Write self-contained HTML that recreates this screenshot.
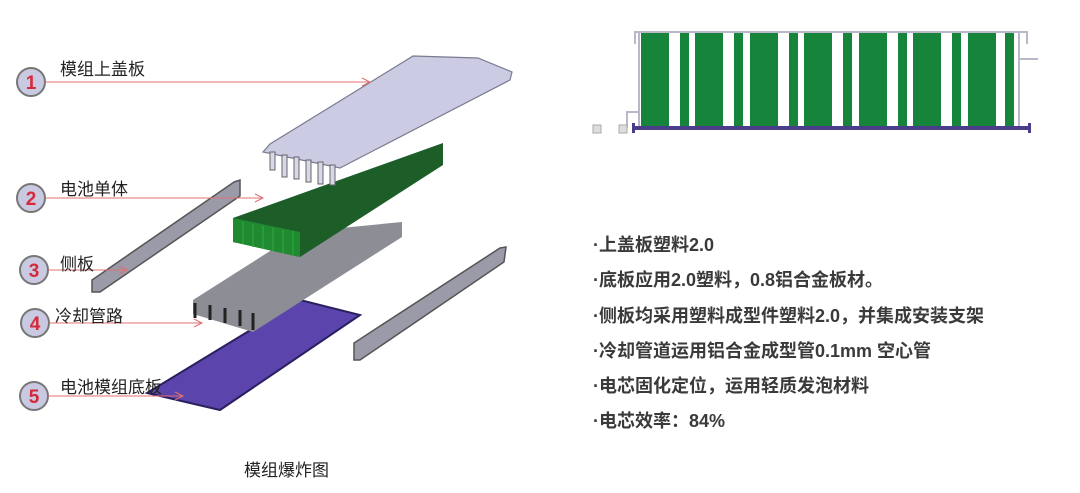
<!DOCTYPE html>
<html><head><meta charset="utf-8"><style>
body{margin:0;background:#fff;}
.w{position:relative;width:1080px;height:493px;overflow:hidden;font-family:"Liberation Sans","Noto Sans CJK SC",sans-serif;}
.t{position:absolute;left:593px;font-size:18px;font-weight:bold;color:#3a3a3a;white-space:nowrap;line-height:20px;}
.l{position:absolute;font-size:17px;color:#222;white-space:nowrap;}
</style></head><body><div class="w">
<svg width="1080" height="493" style="position:absolute;left:0;top:0">
<g fill="#17843c">
<rect x="641" y="32" width="28" height="94"/><rect x="680" y="32" width="9" height="94"/>
<rect x="695" y="32" width="28" height="94"/><rect x="734" y="32" width="9" height="94"/>
<rect x="750" y="32" width="28" height="94"/><rect x="789" y="32" width="9" height="94"/>
<rect x="804" y="32" width="28" height="94"/><rect x="843" y="32" width="9" height="94"/>
<rect x="859" y="32" width="28" height="94"/><rect x="898" y="32" width="9" height="94"/>
<rect x="913" y="32" width="28" height="94"/><rect x="952" y="32" width="9" height="94"/>
<rect x="968" y="32" width="28" height="94"/><rect x="1005" y="32" width="9" height="94"/>
</g>
<path d="M635 44 V32 H1027 V44" fill="none" stroke="#b8b8c8" stroke-width="2"/>
<path d="M639 33 V126 M1019 33 V126 M1019 59 H1038 M638 112 H627 V128" fill="none" stroke="#b8b8c8" stroke-width="2"/>
<rect x="593" y="125" width="8" height="8" fill="#ddd" stroke="#aaa"/>
<rect x="619" y="125" width="8" height="8" fill="#ddd" stroke="#aaa"/>
<rect x="633" y="126" width="397" height="4" fill="#4a3d8a"/>
<rect x="632" y="123" width="3" height="10" fill="#4a3d8a"/><rect x="1028" y="123" width="3" height="10" fill="#4a3d8a"/>

<polygon points="300,300 360,315 220,410 147,393" fill="#5b45ad" stroke="#2a2060" stroke-width="2"/>
<polygon points="300,232 402,222 402,237 253,332 193,314 193,300" fill="#8d8d96"/>
<g stroke="#222" stroke-width="3"><line x1="195" y1="303" x2="195" y2="318"/><line x1="210" y1="305" x2="210" y2="320"/><line x1="225" y1="308" x2="225" y2="323"/><line x1="240" y1="310" x2="240" y2="326"/><line x1="253" y1="313" x2="253" y2="330"/></g>
<polygon points="234,182 240,180 240,196 100,292 92,292 92,280" fill="#9a9aa8" stroke="#555" stroke-width="1.5"/>
<polygon points="500,248 506,247 504,262 360,360 354,360 354,343" fill="#9a9aa8" stroke="#555" stroke-width="1.5"/>
<polygon points="233,218 443,143 443,165 300,257 233,242" fill="#1d5e28"/>
<polygon points="233,218 300,232 300,257 233,242" fill="#1f8a30"/>
<g stroke="#2fa444" stroke-width="1.2"><line x1="243" y1="222" x2="243" y2="244"/><line x1="253" y1="224" x2="253" y2="247"/><line x1="263" y1="226" x2="263" y2="249"/><line x1="273" y1="228" x2="273" y2="251"/><line x1="283" y1="230" x2="283" y2="253"/><line x1="293" y1="231" x2="293" y2="255"/></g>
<polygon points="413,56 478,58 512,72 510,80 340,168 263,152 270,144" fill="#cbcbe3" stroke="#7a7a90" stroke-width="1.2"/>
<g fill="#d8d8e8" stroke="#666"><rect x="270" y="152" width="5" height="18"/><rect x="282" y="155" width="5" height="22"/><rect x="294" y="157" width="5" height="22"/><rect x="306" y="160" width="5" height="22"/><rect x="318" y="162" width="5" height="22"/><rect x="330" y="165" width="5" height="20"/></g>
<g fill="#c9c9e2" stroke="#777" stroke-width="2">
<circle cx="31" cy="82" r="14"/><circle cx="31" cy="198" r="14"/><circle cx="34" cy="270" r="14"/><circle cx="35" cy="323" r="14"/><circle cx="34" cy="396" r="14"/></g>
<g fill="#d42a3a" font-family="Liberation Sans" font-weight="bold" font-size="19" text-anchor="middle">
<text x="31" y="89">1</text><text x="31" y="205">2</text><text x="34" y="277">3</text><text x="35" y="330">4</text><text x="34" y="403">5</text></g>
<g stroke="#e07070" stroke-width="1" fill="none">
<path d="M45 82 H370 M362 78 L370 82 L362 86"/>
<path d="M45 198 H263 M255 194 L263 198 L255 202"/>
<path d="M48 270 H127 M119 266 L127 270 L119 274"/>
<path d="M49 323 H202 M194 319 L202 323 L194 327"/>
<path d="M48 396 H183 M175 392 L183 396 L175 400"/>
</g>
</svg>
<div class="l" style="left:60px;top:55px">模组上盖板</div>
<div class="l" style="left:60px;top:175px">电池单体</div>
<div class="l" style="left:60px;top:250px">侧板</div>
<div class="l" style="left:55px;top:302px">冷却管路</div>
<div class="l" style="left:60px;top:373px">电池模组底板</div>
<div class="l" style="left:244px;top:456px">模组爆炸图</div>
<div class="t" style="top:235px">·上盖板塑料2.0</div>
<div class="t" style="top:270px">·底板应用2.0塑料，0.8铝合金板材。</div>
<div class="t" style="top:306px">·侧板均采用塑料成型件塑料2.0，并集成安装支架</div>
<div class="t" style="top:341px">·冷却管道运用铝合金成型管0.1mm 空心管</div>
<div class="t" style="top:376px">·电芯固化定位，运用轻质发泡材料</div>
<div class="t" style="top:411px">·电芯效率：84%</div>
</div></body></html>
